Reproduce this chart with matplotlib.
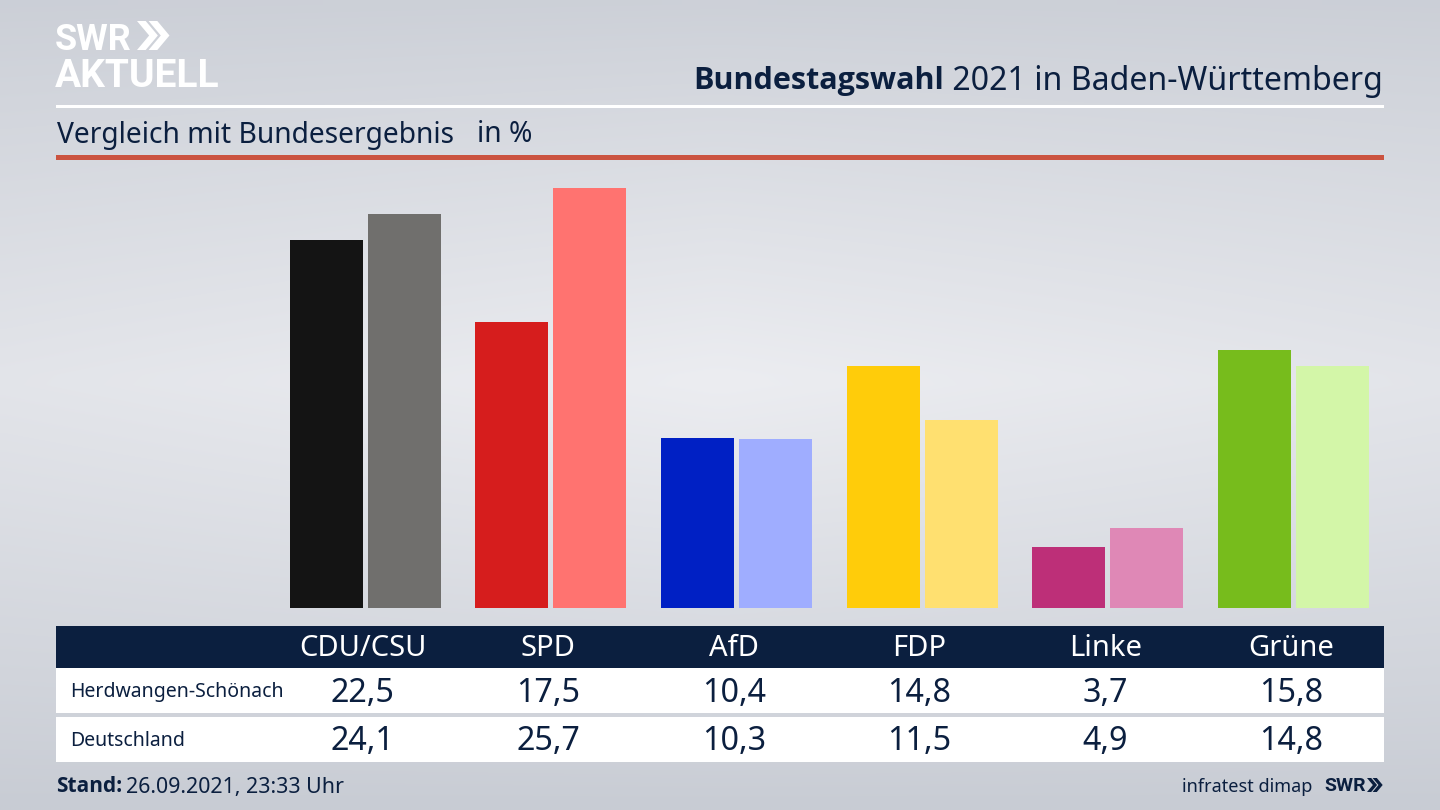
import numpy as np
import matplotlib.pyplot as plt
from matplotlib.patches import Rectangle, Polygon

parties = ['CDU/CSU', 'SPD', 'AfD', 'FDP', 'Linke', 'Grüne']
local_name = 'Herdwangen-Schönach'
national_name = 'Deutschland'
local_values = [22.5, 17.5, 10.4, 14.8, 3.7, 15.8]
national_values = [24.1, 25.7, 10.3, 11.5, 4.9, 14.8]
local_colors = ['#141414', '#d61d1d', '#0020c4', '#ffcc0a', '#bd2f78', '#77bc1c']
national_colors = ['#706f6d', '#ff7370', '#9fadff', '#ffe070', '#df88b6', '#d3f6a8']

navy = '#0b1f3f'
W, H = 1440, 810
plt.rcParams['font.family'] = ['Noto Sans', 'DejaVu Sans']
bold_font = ['Open Sans', 'DejaVu Sans']
logo_font = ['Roboto', 'DejaVu Sans']


def chevrons(axis, x0, y0, h, color):
    # the two arrows of the logo
    w = h * 0.42
    t = h * 0.30
    for dx in (0, h * 0.40):
        xs = [x0 + dx, x0 + dx + t, x0 + dx + t + w, x0 + dx + t, x0 + dx, x0 + dx + w]
        ys = [y0, y0, y0 + h / 2, y0 + h, y0 + h, y0 + h / 2]
        axis.add_patch(Polygon(np.column_stack([xs, ys]), color=color, lw=0))


fig = plt.figure(figsize=(14.4, 8.1), dpi=100)

# background and furniture, in pixel coordinates
bg = fig.add_axes([0, 0, 1, 1])
bg.set_xlim(0, W)
bg.set_ylim(H, 0)
bg.axis('off')
yy, xx = np.mgrid[0:1:81j, 0:1:144j]
shade = 1 - np.abs(yy - 0.47) / 0.53
shade = shade ** 0.9 * (1 - 0.25 * np.abs(xx - 0.5) * 2)
top = np.array([0xc8, 0xcc, 0xd4]) / 255
mid = np.array([0xec, 0xed, 0xf1]) / 255
grad = top + (mid - top) * shade[..., None]
bg.imshow(grad, extent=[0, W, H, 0], aspect='auto', interpolation='bilinear')

# logo
bg.text(55, 50, 'SWR', color='white', family=logo_font, fontsize=26, fontweight='bold', va='baseline', ha='left')
chevrons(bg, 137, 21, 29, 'white')
bg.text(55, 87, 'AKTUELL', color='white', family=logo_font, fontsize=28, fontweight='bold', va='baseline', ha='left')

# title block
t = bg.text(1383, 78, ' 2021 in Baden-Württemberg', color=navy, fontsize=23.1, va='center_baseline', ha='right')
fig.canvas.draw()
bb = t.get_window_extent()
bg.text(bb.x0, 78, 'Bundestagswahl', color=navy, family=bold_font, fontsize=22, fontweight='bold',
        va='center_baseline', ha='right')
bg.add_patch(Rectangle((56, 104.5), 1328, 3, color='white', lw=0))
bg.text(57, 135, 'Vergleich mit Bundesergebnis', color=navy, fontsize=20.3, va='center')
bg.text(477, 135, 'in %', color=navy, fontsize=20.3, va='center')
bg.add_patch(Rectangle((56, 155), 1328, 5, color='#cb5340', lw=0))

# table
bg.add_patch(Rectangle((56, 626), 1328, 42, color=navy, lw=0))
bg.add_patch(Rectangle((56, 668), 1328, 45, color='white', lw=0))
bg.add_patch(Rectangle((56, 717), 1328, 45, color='white', lw=0))
bg.text(70, 692, local_name, color=navy, fontsize=14, va='center')
bg.text(70, 741, national_name, color=navy, fontsize=14, va='center')
for i, party in enumerate(parties):
    cx = 362.5 + 185.7 * i
    bg.text(cx, 649, party, color='white', fontsize=21, va='center', ha='center')
    bg.text(cx, 693, f'{local_values[i]:.1f}'.replace('.', ','), color=navy, fontsize=23.2, va='center', ha='center')
    bg.text(cx, 742, f'{national_values[i]:.1f}'.replace('.', ','), color=navy, fontsize=23.2, va='center', ha='center')

# footer
bg.text(56, 787, 'Stand:', color=navy, family=bold_font, fontsize=15, fontweight='bold', va='center')
bg.text(126, 787, '26.09.2021, 23:33 Uhr', color=navy, fontsize=15.4, va='center')
bg.text(1312, 787, 'infratest dimap', color=navy, fontsize=13, va='center', ha='right')
bg.text(1324, 791, 'SWR', color=navy, family=logo_font, fontsize=14, fontweight='bold', va='baseline', ha='left')
chevrons(bg, 1367, 778, 14, navy)

# bars
ax = fig.add_axes([56 / W, 1 - 608 / H, 1328 / W, 448 / H])
ax.patch.set_alpha(0)
step = 185.6
ax.set_xlim((56 - 365.3) / step, (1384 - 365.3) / step)
ax.set_ylim(0, 448 / 16.36)
ax.axis('off')
x = np.arange(len(parties))
ax.bar(x - 39 / step, local_values, width=73 / step, color=local_colors)
ax.bar(x + 39 / step, national_values, width=73 / step, color=national_colors)

plt.savefig('out.png', dpi=100)
